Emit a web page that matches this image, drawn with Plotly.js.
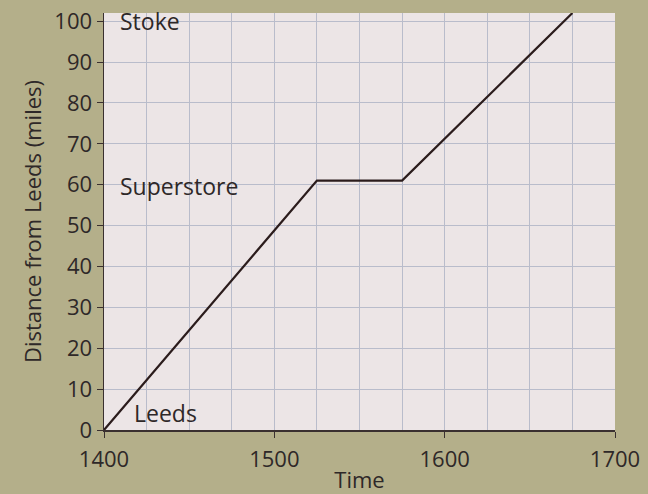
<!DOCTYPE html>
<html><head><meta charset="utf-8">
<script src="https://cdn.plot.ly/plotly-3.0.1.min.js"></script>
<style>html,body{margin:0;padding:0;background:#b4af8a;}</style>
</head><body><div id="chart" style="width:648px;height:494px;"></div>
<script>
const times = [1400, 1525, 1575, 1675];
const distances = [0, 61, 61, 102];
const placeNames = ["Stoke", "Superstore", "Leeds"];
const placeX = [1408.5, 1408.5, 1416.5];
const placeY = [100, 59.8, 4.1];
const xTicks = [1400, 1500, 1600, 1700];
const yTicks = [0, 10, 20, 30, 40, 50, 60, 70, 80, 90, 100];

const font = "Open Sans, Noto Sans, sans-serif";
const txt = '#2e2828';
const annotations = placeNames.map((t, i) => ({
  x: placeX[i], y: placeY[i], text: t, showarrow: false,
  xanchor: 'left', yanchor: 'middle',
  font: {family: font, size: 23, color: txt}
}));

Plotly.newPlot('chart', [{
  x: times, y: distances, type: 'scatter', mode: 'lines',
  line: {color: '#2b1c1c', width: 2.2}, cliponaxis: true, hoverinfo: 'none'
}], {
  width: 648, height: 494,
  margin: {l: 104, r: 33, t: 13, b: 64},
  paper_bgcolor: '#b4af8a', plot_bgcolor: '#ece5e6',
  showlegend: false,
  font: {family: font, size: 22, color: txt},
  xaxis: {
    range: [1400, 1700], tickvals: xTicks, ticktext: xTicks.map(String),
    showgrid: true, gridcolor: '#b9bccb', gridwidth: 1,
    minor: {dtick: 25, showgrid: true, gridcolor: '#b9bccb', gridwidth: 1},
    showline: true, linecolor: '#3a3030', linewidth: 1.5,
    ticks: 'outside', ticklen: 6, tickcolor: '#3a3030',
    zeroline: false, ticklabelstandoff: 3,
    tickfont: {family: font, size: 22, color: txt},
    title: {text: 'Time', font: {family: font, size: 22, color: txt}, standoff: 1}
  },
  yaxis: {
    range: [0, 102], tickvals: yTicks, ticktext: yTicks.map(String),
    showgrid: true, gridcolor: '#b9bccb', gridwidth: 1,
    showline: true, linecolor: '#3a3030', linewidth: 1.5,
    ticks: 'outside', ticklen: 6, tickcolor: '#3a3030',
    zeroline: false,
    tickfont: {family: font, size: 22, color: txt},
    title: {text: 'Distance from Leeds (miles)', font: {family: font, size: 22, color: txt}, standoff: 6}
  },
  annotations: annotations
}, {displayModeBar: false, staticPlot: true});
</script></body></html>
